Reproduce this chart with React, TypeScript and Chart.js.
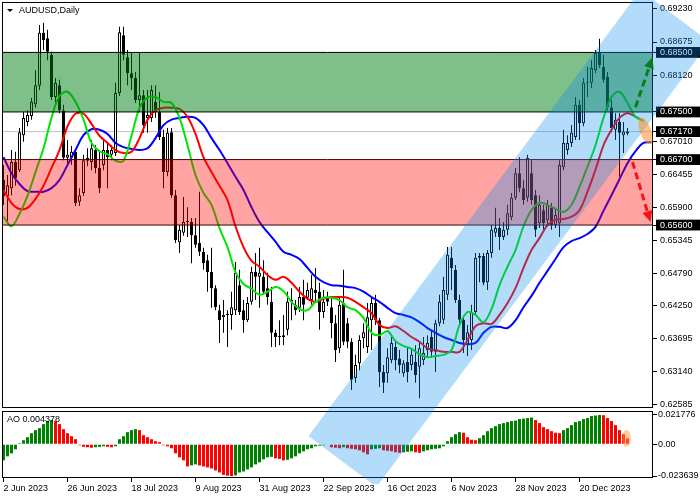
import React, { useEffect, useRef } from 'react';
import { Chart, registerables } from 'chart.js';

Chart.register(...registerables);

const FONT = '"Liberation Sans", Arial, Helvetica, sans-serif';

// ---------------- data (AUDUSD daily) ----------------
const openP = [
  0.6636, 0.6609, 0.6622, 0.6666, 0.6652, 0.6711, 0.6733, 0.6743, 0.6763, 0.6794,
  0.6883, 0.6874, 0.6846, 0.6775, 0.6795, 0.6753, 0.6673, 0.6673, 0.6683, 0.6599,
  0.6614, 0.6673, 0.6666, 0.6686, 0.6656, 0.6661, 0.6686, 0.6678, 0.6681, 0.6782,
  0.6879, 0.6842, 0.6815, 0.6807, 0.6770, 0.6778, 0.6740, 0.6740, 0.6767, 0.6750,
  0.6708, 0.6649, 0.6716, 0.6610, 0.6531, 0.6547, 0.6565, 0.6565, 0.6543, 0.6530,
  0.6515, 0.6501, 0.6481, 0.6454, 0.6417, 0.6405, 0.6409, 0.6409, 0.6417, 0.6459,
  0.6417, 0.6400, 0.6431, 0.6481, 0.6473, 0.6473, 0.6454, 0.6431, 0.6379, 0.6372,
  0.6375, 0.6384, 0.6431, 0.6426, 0.6421, 0.6439, 0.6438, 0.6434, 0.6451, 0.6448,
  0.6414, 0.6438, 0.6422, 0.6395, 0.6353, 0.6429, 0.6395, 0.6364, 0.6303, 0.6328,
  0.6370, 0.6355, 0.6400, 0.6429, 0.6400, 0.6313, 0.6311, 0.6333, 0.6355, 0.6336,
  0.6311, 0.6330, 0.6325, 0.6330, 0.6322, 0.6333, 0.6350, 0.6372, 0.6347, 0.6395,
  0.6401, 0.6443, 0.6505, 0.6485, 0.6434, 0.6401, 0.6358, 0.6367, 0.6414, 0.6508,
  0.6508, 0.6464, 0.6513, 0.6547, 0.6555, 0.6540, 0.6552, 0.6573, 0.6606, 0.6647,
  0.6622, 0.6606, 0.6647, 0.6610, 0.6563, 0.6585, 0.6568, 0.6590, 0.6560, 0.6563,
  0.6657, 0.6686, 0.6698, 0.6708, 0.6762, 0.6731, 0.6799, 0.6799, 0.6820, 0.6849,
  0.6826, 0.6809, 0.6758, 0.6720, 0.6733, 0.6711, 0.6714,
];
const highP = [
  0.6661, 0.6644, 0.6686, 0.6683, 0.6723, 0.6750, 0.6753, 0.6774, 0.6820, 0.6896,
  0.6900, 0.6888, 0.6851, 0.6807, 0.6804, 0.6762, 0.6703, 0.6693, 0.6686, 0.6622,
  0.6678, 0.6689, 0.6703, 0.6694, 0.6686, 0.6703, 0.6700, 0.6694, 0.6799, 0.6893,
  0.6893, 0.6854, 0.6849, 0.6817, 0.6849, 0.6787, 0.6787, 0.6795, 0.6795, 0.6783,
  0.6720, 0.6723, 0.6723, 0.6619, 0.6560, 0.6607, 0.6590, 0.6572, 0.6572, 0.6616,
  0.6522, 0.6510, 0.6522, 0.6459, 0.6426, 0.6434, 0.6417, 0.6448, 0.6498, 0.6485,
  0.6434, 0.6439, 0.6490, 0.6513, 0.6522, 0.6501, 0.6480, 0.6456, 0.6384, 0.6400,
  0.6409, 0.6448, 0.6454, 0.6434, 0.6456, 0.6468, 0.6463, 0.6476, 0.6488, 0.6463,
  0.6451, 0.6448, 0.6438, 0.6409, 0.6438, 0.6485, 0.6404, 0.6370, 0.6342, 0.6375,
  0.6395, 0.6429, 0.6439, 0.6443, 0.6404, 0.6325, 0.6353, 0.6372, 0.6367, 0.6350,
  0.6333, 0.6355, 0.6353, 0.6358, 0.6362, 0.6372, 0.6375, 0.6384, 0.6401, 0.6443,
  0.6473, 0.6523, 0.6523, 0.6493, 0.6443, 0.6404, 0.6392, 0.6426, 0.6513, 0.6513,
  0.6513, 0.6518, 0.6560, 0.6589, 0.6572, 0.6565, 0.6594, 0.6614, 0.6656, 0.6674,
  0.6636, 0.6678, 0.6669, 0.6619, 0.6610, 0.6594, 0.6602, 0.6597, 0.6589, 0.6669,
  0.6720, 0.6711, 0.6728, 0.6775, 0.6770, 0.6807, 0.6826, 0.6837, 0.6854, 0.6873,
  0.6846, 0.6817, 0.6770, 0.6748, 0.6748, 0.6733, 0.6723,
];
const lowP = [
  0.6594, 0.6565, 0.6610, 0.6626, 0.6649, 0.6700, 0.6726, 0.6737, 0.6757, 0.6787,
  0.6854, 0.6837, 0.6770, 0.6762, 0.6748, 0.6669, 0.6664, 0.6661, 0.6592, 0.6592,
  0.6609, 0.6659, 0.6652, 0.6647, 0.6614, 0.6652, 0.6622, 0.6669, 0.6676, 0.6777,
  0.6837, 0.6795, 0.6787, 0.6765, 0.6750, 0.6715, 0.6715, 0.6733, 0.6740, 0.6703,
  0.6622, 0.6642, 0.6606, 0.6530, 0.6513, 0.6542, 0.6540, 0.6496, 0.6522, 0.6508,
  0.6485, 0.6448, 0.6421, 0.6417, 0.6362, 0.6379, 0.6355, 0.6384, 0.6409, 0.6409,
  0.6379, 0.6397, 0.6426, 0.6434, 0.6421, 0.6443, 0.6426, 0.6355, 0.6355, 0.6358,
  0.6358, 0.6375, 0.6400, 0.6409, 0.6414, 0.6400, 0.6434, 0.6426, 0.6429, 0.6384,
  0.6404, 0.6424, 0.6370, 0.6330, 0.6345, 0.6358, 0.6353, 0.6283, 0.6295, 0.6316,
  0.6353, 0.6345, 0.6350, 0.6392, 0.6288, 0.6278, 0.6295, 0.6328, 0.6316, 0.6311,
  0.6305, 0.6296, 0.6316, 0.6295, 0.6269, 0.6325, 0.6337, 0.6337, 0.6313, 0.6390,
  0.6394, 0.6434, 0.6451, 0.6429, 0.6392, 0.6345, 0.6340, 0.6350, 0.6409, 0.6464,
  0.6459, 0.6451, 0.6505, 0.6540, 0.6518, 0.6535, 0.6543, 0.6568, 0.6602, 0.6615,
  0.6594, 0.6599, 0.6594, 0.6540, 0.6555, 0.6552, 0.6560, 0.6552, 0.6555, 0.6540,
  0.6652, 0.6678, 0.6691, 0.6703, 0.6703, 0.6726, 0.6775, 0.6790, 0.6815, 0.6824,
  0.6799, 0.6753, 0.6716, 0.6703, 0.6641, 0.6681, 0.6711,
];
const closeP = [
  0.6609, 0.6627, 0.6666, 0.6639, 0.6716, 0.6740, 0.6745, 0.6767, 0.6795, 0.6883,
  0.6871, 0.6851, 0.6775, 0.6799, 0.6753, 0.6673, 0.6678, 0.6683, 0.6597, 0.6610,
  0.6669, 0.6668, 0.6689, 0.6656, 0.6622, 0.6686, 0.6674, 0.6686, 0.6782, 0.6884,
  0.6846, 0.6815, 0.6807, 0.6770, 0.6778, 0.6728, 0.6745, 0.6787, 0.6750, 0.6708,
  0.6649, 0.6715, 0.6610, 0.6535, 0.6552, 0.6565, 0.6567, 0.6543, 0.6527, 0.6515,
  0.6496, 0.6481, 0.6454, 0.6422, 0.6400, 0.6409, 0.6411, 0.6422, 0.6480, 0.6414,
  0.6400, 0.6429, 0.6481, 0.6473, 0.6480, 0.6448, 0.6439, 0.6379, 0.6372, 0.6374,
  0.6372, 0.6431, 0.6434, 0.6417, 0.6439, 0.6426, 0.6451, 0.6454, 0.6446, 0.6414,
  0.6431, 0.6431, 0.6395, 0.6350, 0.6426, 0.6364, 0.6364, 0.6300, 0.6325, 0.6367,
  0.6380, 0.6405, 0.6429, 0.6400, 0.6313, 0.6295, 0.6338, 0.6362, 0.6333, 0.6325,
  0.6328, 0.6313, 0.6342, 0.6308, 0.6353, 0.6345, 0.6362, 0.6347, 0.6395, 0.6431,
  0.6451, 0.6510, 0.6488, 0.6434, 0.6401, 0.6367, 0.6380, 0.6414, 0.6505, 0.6505,
  0.6463, 0.6513, 0.6552, 0.6555, 0.6540, 0.6552, 0.6580, 0.6606, 0.6647, 0.6622,
  0.6602, 0.6673, 0.6602, 0.6552, 0.6594, 0.6563, 0.6594, 0.6560, 0.6577, 0.6661,
  0.6698, 0.6698, 0.6715, 0.6762, 0.6731, 0.6799, 0.6800, 0.6824, 0.6849, 0.6829,
  0.6804, 0.6758, 0.6723, 0.6737, 0.6715, 0.6717, 0.6717,
];

// Alligator lines, one value every 2 bars
const MA_STEP = 2;
const lipsLine = [
  0.6574, 0.6558, 0.6579, 0.6609, 0.6649, 0.6689, 0.6740, 0.6777, 0.6784, 0.6767,
  0.6737, 0.6698, 0.6684, 0.6679, 0.6668, 0.6668, 0.6710, 0.6757, 0.6774, 0.6775,
  0.6767, 0.6765, 0.6740, 0.6694, 0.6644, 0.6614, 0.6594, 0.6555, 0.6523, 0.6481,
  0.6461, 0.6453, 0.6443, 0.6448, 0.6456, 0.6449, 0.6431, 0.6419, 0.6417, 0.6431,
  0.6438, 0.6438, 0.6434, 0.6422, 0.6417, 0.6404, 0.6379, 0.6375, 0.6382, 0.6365,
  0.6357, 0.6352, 0.6343, 0.6338, 0.6340, 0.6342, 0.6350, 0.6392, 0.6414, 0.6409,
  0.6397, 0.6419, 0.6459, 0.6490, 0.6518, 0.6558, 0.6585, 0.6597, 0.6594, 0.6587,
  0.6582, 0.6594, 0.6624, 0.6658, 0.6694, 0.6740, 0.6775, 0.6784, 0.6765, 0.6742,
  0.6735,
];
const teethLine = [
  0.6619, 0.6597, 0.6587, 0.6589, 0.6604, 0.6626, 0.6656, 0.6686, 0.6726, 0.6747,
  0.6747, 0.6730, 0.6710, 0.6698, 0.6686, 0.6681, 0.6683, 0.6706, 0.6737, 0.6753,
  0.6757, 0.6757, 0.6755, 0.6742, 0.6713, 0.6674, 0.6649, 0.6626, 0.6602, 0.6558,
  0.6523, 0.6500, 0.6490, 0.6476, 0.6468, 0.6473, 0.6463, 0.6448, 0.6436, 0.6431,
  0.6436, 0.6439, 0.6439, 0.6438, 0.6431, 0.6422, 0.6412, 0.6392, 0.6387, 0.6390,
  0.6382, 0.6372, 0.6364, 0.6353, 0.6350, 0.6347, 0.6347, 0.6347, 0.6367, 0.6390,
  0.6395, 0.6394, 0.6409, 0.6429, 0.6454, 0.6488, 0.6518, 0.6538, 0.6560, 0.6569,
  0.6570, 0.6574, 0.6585, 0.6616, 0.6653, 0.6694, 0.6720, 0.6740, 0.6748, 0.6742,
  0.6735,
];
const jawLine = [
  0.6674, 0.6647, 0.6629, 0.6617, 0.6616, 0.6616, 0.6622, 0.6636, 0.6661, 0.6686,
  0.6711, 0.6721, 0.6720, 0.6713, 0.6698, 0.6691, 0.6688, 0.6686, 0.6689, 0.6706,
  0.6728, 0.6737, 0.6740, 0.6742, 0.6740, 0.6728, 0.6706, 0.6686, 0.6664, 0.6641,
  0.6619, 0.6590, 0.6565, 0.6548, 0.6532, 0.6515, 0.6510, 0.6503, 0.6488, 0.6473,
  0.6464, 0.6459, 0.6458, 0.6456, 0.6454, 0.6448, 0.6439, 0.6431, 0.6421, 0.6412,
  0.6409, 0.6405, 0.6397, 0.6387, 0.6379, 0.6372, 0.6367, 0.6362, 0.6360, 0.6362,
  0.6379, 0.6389, 0.6389, 0.6387, 0.6400, 0.6422, 0.6441, 0.6463, 0.6483, 0.6503,
  0.6523, 0.6533, 0.6538, 0.6545, 0.6557, 0.6584, 0.6610, 0.6637, 0.6664, 0.6684,
  0.6698, 0.6699,
];

// Awesome Oscillator, one value per bar
const aoValues = [
  -0.01200, -0.00900, -0.00675, -0.00375, 0.00075, 0.00300, 0.00525, 0.00825, 0.01050, 0.01200,
  0.01500, 0.01725, 0.01800, 0.01725, 0.01500, 0.01125, 0.00825, 0.00600, 0.00375, -0.00075,
  -0.00190, -0.00225, -0.00260, -0.00225, -0.00190, -0.00150, -0.00190, -0.00225, -0.00150, 0.00375,
  0.00600, 0.00900, 0.01050, 0.01125, 0.01050, 0.00675, 0.00525, 0.00375, 0.00225, 0.00150,
  -0.00075, -0.00150, -0.00300, -0.00675, -0.00975, -0.01200, -0.01650, -0.01575, -0.01500, -0.01575,
  -0.01650, -0.01725, -0.01800, -0.01950, -0.02100, -0.02280, -0.02340, -0.023639, -0.02320, -0.02100,
  -0.02025, -0.01875, -0.01725, -0.01500, -0.01350, -0.01125, -0.00975, -0.00940, -0.01050, -0.01090,
  -0.01200, -0.01160, -0.01050, -0.00900, -0.00675, -0.00525, -0.00375, -0.00300, -0.00150, -0.00110,
  -0.00075, -0.00040, -0.00225, -0.00260, -0.00300, -0.00225, -0.00300, -0.00340, -0.00375, -0.00450,
  -0.00600, -0.00750, -0.00375, -0.00340, -0.00300, -0.00450, -0.00490, -0.00525, -0.00600, -0.00640,
  -0.00600, -0.00560, -0.00525, -0.00600, -0.00640, -0.00525, -0.00450, -0.00375, -0.00340, -0.00300,
  -0.00150, 0.00225, 0.00525, 0.00750, 0.00900, 0.00860, 0.00525, 0.00340, 0.00300, 0.00450,
  0.00675, 0.00975, 0.01200, 0.01350, 0.01500, 0.01575, 0.01650, 0.01725, 0.01760, 0.01875,
  0.01910, 0.01950, 0.01990, 0.01800, 0.01575, 0.01275, 0.01125, 0.00975, 0.00860, 0.00825,
  0.01050, 0.01200, 0.01425, 0.01650, 0.01725, 0.01875, 0.01950, 0.02100, 0.02140, 0.021776,
  0.02160, 0.01950, 0.01725, 0.01425, 0.01050, 0.00750, 0.004378,
];
const aoLastLabel = 'AO 0.004378';

const priceTicks = [0.6923, 0.68675, 0.6812, 0.6701, 0.66455, 0.659, 0.65345, 0.6479, 0.6425, 0.63695, 0.6314, 0.62585];
const levelPrices = [0.685, 0.675, 0.6717, 0.667, 0.656];
const currentPrice = 0.6717;
const greenZone = [0.675, 0.685];
const redZone = [0.656, 0.667];
const aoTicks = [-0.023639, 0, 0.021776];
const aoTickLabels = ['-0.023639', '0.00', '0.021776'];
const dateTickBars = [0, 16, 32, 48, 64, 80, 96, 112, 128, 144];
const dateLabels = ['2 Jun 2023', '26 Jun 2023', '18 Jul 2023', '9 Aug 2023', '31 Aug 2023', '22 Sep 2023', '16 Oct 2023', '6 Nov 2023', '28 Nov 2023', '20 Dec 2023'];
const chartTitle = 'AUDUSD,Daily';

const channelCorners = [
  { bar: 76.25, price: 0.62056 },
  { bar: 159.25, price: 0.69549 },
  { bar: 176.5, price: 0.68675 },
  { bar: 93.25, price: 0.61199 },
];
const upArrow = { from: { bar: 158, price: 0.6758 }, to: { bar: 162.25, price: 0.6842 } };
const downArrow = { from: { bar: 157.25, price: 0.6666 }, to: { bar: 161.75, price: 0.6565 } };
const priceMarker = { bar: 160.5, price: 0.6718 };
const aoMarker = { bar: 155.75, value: 0.0043 };

// ---------------- scale ranges ----------------
const X_MIN = -0.375;
const X_MAX = 162.375;
const PRICE_MIN = 0.62527;
const PRICE_MAX = 0.69347;
const AO_MIN = -0.025128;
const AO_MAX = 0.024754;

const isLevel = (v: number) => levelPrices.some((l) => Math.abs(l - v) < 1e-7);

function drawArrow(ctx: CanvasRenderingContext2D, x1: number, y1: number, x2: number, y2: number, color: string) {
  const ang = Math.atan2(y2 - y1, x2 - x1);
  const head = 11;
  const hw = 5;
  const bx = x2 - head * Math.cos(ang);
  const by = y2 - head * Math.sin(ang);
  ctx.save();
  ctx.strokeStyle = color;
  ctx.lineWidth = 3;
  ctx.setLineDash([7, 4]);
  ctx.beginPath();
  ctx.moveTo(x1, y1);
  ctx.lineTo(bx, by);
  ctx.stroke();
  ctx.setLineDash([]);
  ctx.fillStyle = color;
  ctx.beginPath();
  ctx.moveTo(x2, y2);
  ctx.lineTo(bx + hw * Math.sin(ang), by - hw * Math.cos(ang));
  ctx.lineTo(bx - hw * Math.sin(ang), by + hw * Math.cos(ang));
  ctx.closePath();
  ctx.fill();
  ctx.restore();
}

const mainOverlay = {
  id: 'mainOverlay',
  afterDatasetsDraw(chart: any) {
    const { ctx, chartArea: a, scales } = chart;
    const xs = scales.x;
    const ys = scales.y;
    // panel frame
    ctx.save();
    ctx.strokeStyle = '#000';
    ctx.lineWidth = 1;
    ctx.strokeRect(a.left + 0.5, a.top + 0.5, a.right - a.left - 1, a.bottom - a.top - 1);
    ctx.restore();
    // title
    ctx.save();
    ctx.fillStyle = '#000';
    ctx.beginPath();
    ctx.moveTo(a.left + 5, a.top + 7);
    ctx.lineTo(a.left + 11, a.top + 7);
    ctx.lineTo(a.left + 8, a.top + 10);
    ctx.closePath();
    ctx.fill();
    ctx.font = '9px ' + FONT;
    ctx.textBaseline = 'middle';
    ctx.fillText(chartTitle, a.left + 17, a.top + 9);
    ctx.restore();
    // regression channel
    ctx.save();
    ctx.beginPath();
    ctx.rect(a.left, 0, chart.width - a.left, chart.height - 16);
    ctx.clip();
    ctx.beginPath();
    channelCorners.forEach((c, k) => {
      const px = xs.getPixelForValue(c.bar);
      const py = ys.getPixelForValue(c.price);
      if (k === 0) ctx.moveTo(px, py);
      else ctx.lineTo(px, py);
    });
    ctx.closePath();
    ctx.fillStyle = 'rgba(0,140,240,0.3)';
    ctx.fill();
    ctx.restore();
    // forecast arrows
    drawArrow(ctx, xs.getPixelForValue(upArrow.from.bar), ys.getPixelForValue(upArrow.from.price),
      xs.getPixelForValue(upArrow.to.bar), ys.getPixelForValue(upArrow.to.price), '#0a7d1c');
    drawArrow(ctx, xs.getPixelForValue(downArrow.from.bar), ys.getPixelForValue(downArrow.from.price),
      xs.getPixelForValue(downArrow.to.bar), ys.getPixelForValue(downArrow.to.price), '#ff1010');
    // marker ellipse
    ctx.save();
    ctx.fillStyle = 'rgba(255,140,40,0.55)';
    ctx.beginPath();
    ctx.ellipse(xs.getPixelForValue(priceMarker.bar), ys.getPixelForValue(priceMarker.price), 5.5, 14, -0.35, 0, Math.PI * 2);
    ctx.fill();
    ctx.restore();
  },
};

const aoOverlay = {
  id: 'aoOverlay',
  afterDatasetsDraw(chart: any) {
    const { ctx, chartArea: a, scales } = chart;
    ctx.save();
    ctx.strokeStyle = '#000';
    ctx.lineWidth = 1;
    ctx.strokeRect(a.left + 0.5, a.top + 0.5, a.right - a.left - 1, a.bottom - a.top - 1);
    ctx.fillStyle = '#000';
    ctx.font = '9px ' + FONT;
    ctx.textBaseline = 'middle';
    ctx.fillText(aoLastLabel, a.left + 5, a.top + 9);
    ctx.fillStyle = 'rgba(255,150,70,0.5)';
    ctx.beginPath();
    ctx.ellipse(scales.x.getPixelForValue(aoMarker.bar), scales.y.getPixelForValue(aoMarker.value), 4.5, 8.5, 0, 0, Math.PI * 2);
    ctx.fill();
    ctx.restore();
  },
};

function hLine(price: number, color: string, order: number) {
  return {
    type: 'line',
    data: [{ x: X_MIN - 2, y: price }, { x: X_MAX + 2, y: price }],
    borderColor: color,
    borderWidth: 1,
    pointRadius: 0,
    fill: false,
    order,
  };
}

function zone(range: number[], color: string, order: number) {
  return {
    type: 'line',
    data: [{ x: X_MIN - 2, y: range[1] }, { x: X_MAX + 2, y: range[1] }],
    borderColor: 'rgba(0,0,0,0)',
    borderWidth: 0,
    backgroundColor: color,
    fill: { value: range[0] },
    pointRadius: 0,
    order,
  };
}

function maLine(values: number[], color: string, order: number) {
  return {
    type: 'line',
    data: values.map((v, k) => ({ x: k * MA_STEP, y: v })),
    borderColor: color,
    borderWidth: 2,
    pointRadius: 0,
    tension: 0.35,
    fill: false,
    order,
  };
}

const noPad = (s: any) => {
  s.paddingTop = 0;
  s.paddingBottom = 0;
  s.paddingLeft = 0;
  s.paddingRight = 0;
};

function buildMainConfig(): any {
  const wicks: any[] = [];
  const bull: any[] = [];
  const bear: any[] = [];
  for (let i = 0; i < closeP.length; i++) {
    wicks.push({ x: i, y: [lowP[i], highP[i]] });
    if (closeP[i] >= openP[i]) bull.push({ x: i, y: [openP[i], closeP[i]] });
    else bear.push({ x: i, y: [closeP[i], openP[i]] });
  }
  const barCommon = { grouped: false, inflateAmount: 0, borderSkipped: false };
  const yTicks = [...priceTicks, ...levelPrices].sort((p, q) => p - q);
  return {
    type: 'bar',
    data: {
      datasets: [
        hLine(currentPrice, '#c0c0c0', 100),
        { type: 'bar', data: wicks, backgroundColor: '#000', borderWidth: 0, barThickness: 1, order: 90, ...barCommon },
        { type: 'bar', data: bull, backgroundColor: '#fff', borderColor: '#000', borderWidth: 1, barThickness: 3, minBarLength: 1, order: 80, ...barCommon },
        { type: 'bar', data: bear, backgroundColor: '#000', borderColor: '#000', borderWidth: 1, barThickness: 3, minBarLength: 1, order: 80, ...barCommon },
        maLine(jawLine, '#0000ff', 72),
        maLine(teethLine, '#ff0000', 71),
        maLine(lipsLine, '#00e600', 70),
        zone(greenZone, 'rgba(0,128,20,0.5)', 50),
        zone(redZone, 'rgba(255,0,0,0.36)', 50),
        hLine(greenZone[1], '#000', 40),
        hLine(greenZone[0], '#000', 40),
        hLine(redZone[1], '#5a0000', 40),
        hLine(redZone[0], '#3a0000', 40),
      ],
    },
    options: {
      animation: false,
      responsive: false,
      maintainAspectRatio: false,
      devicePixelRatio: 1,
      events: [],
      layout: { padding: { left: 2, top: 2, right: 0, bottom: 92 } },
      plugins: { legend: { display: false }, tooltip: { enabled: false }, title: { display: false } },
      scales: {
        x: { type: 'linear', display: false, min: X_MIN, max: X_MAX, offset: false, grid: { offset: false } },
        y: {
          type: 'linear',
          position: 'right',
          min: PRICE_MIN,
          max: PRICE_MAX,
          afterBuildTicks: (s: any) => { s.ticks = yTicks.map((v) => ({ value: v })); },
          afterFit: (s: any) => { s.width = 47; noPad(s); },
          border: { display: false },
          grid: { display: true, drawOnChartArea: false, drawTicks: true, tickLength: 4, color: '#000' },
          ticks: {
            autoSkip: false,
            padding: 3,
            font: { family: FONT, size: 9 },
            color: (c: any) => (isLevel(c.tick.value) ? '#fff' : '#000'),
            showLabelBackdrop: (c: any) => isLevel(c.tick.value),
            backdropColor: '#000',
            backdropPadding: { left: 4, right: 8, top: 0, bottom: 0 },
            callback: (v: any) => Number(v).toFixed(5),
          },
        },
      },
    },
    plugins: [mainOverlay],
  };
}

function buildAoConfig(): any {
  const colors = aoValues.map((v, i) => (i === 0 || v > aoValues[i - 1] ? '#008000' : '#ff0000'));
  return {
    type: 'bar',
    data: {
      datasets: [
        {
          type: 'bar',
          data: aoValues.map((v, i) => ({ x: i, y: v })),
          backgroundColor: colors,
          borderWidth: 0,
          barThickness: 3,
          grouped: false,
          inflateAmount: 0,
        },
      ],
    },
    options: {
      animation: false,
      responsive: false,
      maintainAspectRatio: false,
      devicePixelRatio: 1,
      events: [],
      layout: { padding: { left: 2, top: 411, right: 0, bottom: 0 } },
      plugins: { legend: { display: false }, tooltip: { enabled: false }, title: { display: false } },
      scales: {
        x: {
          type: 'linear',
          position: 'bottom',
          min: X_MIN,
          max: X_MAX,
          offset: false,
          afterBuildTicks: (s: any) => { s.ticks = dateTickBars.map((v) => ({ value: v })); },
          afterFit: (s: any) => { s.height = 22; noPad(s); },
          border: { display: false },
          grid: { display: true, offset: false, drawOnChartArea: false, drawTicks: true, tickLength: 4, color: '#000' },
          ticks: {
            autoSkip: false,
            maxRotation: 0,
            minRotation: 0,
            align: 'start',
            padding: 1,
            color: '#000',
            font: { family: FONT, size: 9 },
            callback: (v: any) => {
              const k = dateTickBars.indexOf(Number(v));
              return k >= 0 ? dateLabels[k] : '';
            },
          },
        },
        y: {
          type: 'linear',
          position: 'right',
          min: AO_MIN,
          max: AO_MAX,
          afterBuildTicks: (s: any) => { s.ticks = aoTicks.map((v) => ({ value: v })); },
          afterFit: (s: any) => { s.width = 47; noPad(s); },
          border: { display: false },
          grid: { display: true, drawOnChartArea: false, drawTicks: true, tickLength: 4, color: '#000' },
          ticks: {
            autoSkip: false,
            padding: 1,
            color: '#000',
            font: { family: FONT, size: 9 },
            callback: (v: any) => {
              const k = aoTicks.findIndex((t) => Math.abs(t - Number(v)) < 1e-9);
              return k >= 0 ? aoTickLabels[k] : '';
            },
          },
        },
      },
    },
    plugins: [aoOverlay],
  };
}

export default function App() {
  const mainRef = useRef<HTMLCanvasElement | null>(null);
  const aoRef = useRef<HTMLCanvasElement | null>(null);

  useEffect(() => {
    const ao = new Chart(aoRef.current as HTMLCanvasElement, buildAoConfig());
    const main = new Chart(mainRef.current as HTMLCanvasElement, buildMainConfig());
    return () => {
      main.destroy();
      ao.destroy();
    };
  }, []);

  const canvasStyle: React.CSSProperties = { position: 'absolute', left: 0, top: 0, width: 700, height: 500 };
  return (
    <div style={{ position: 'fixed', left: 0, top: 0, width: 700, height: 500, background: '#fff' }}>
      <canvas ref={aoRef} width={700} height={500} style={canvasStyle} />
      <canvas ref={mainRef} width={700} height={500} style={canvasStyle} />
    </div>
  );
}
